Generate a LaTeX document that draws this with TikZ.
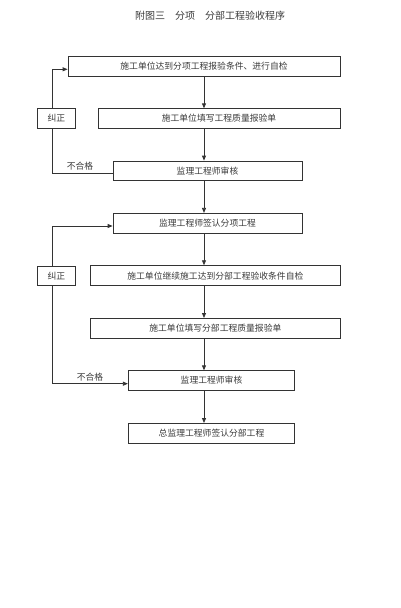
\documentclass[tikz,border=0pt]{standalone}
\usepackage{fontspec}
\newfontfamily\cjk{Noto Sans CJK SC}
\usetikzlibrary{arrows.meta}
\definecolor{linec}{HTML}{333333}
\definecolor{textc}{HTML}{3A3A3A}
\begin{document}
\begin{tikzpicture}[x=1pt,y=-1pt,
  stepbox/.style={draw=linec,line width=0.8pt,inner sep=0pt,minimum height=19.5pt,
    font=\cjk\fontsize{8.8pt}{10pt}\selectfont,text=textc},
  lbl/.style={inner sep=0pt,font=\cjk\fontsize{8.8pt}{10pt}\selectfont,text=textc},
  conn/.style={draw=linec,line width=0.8pt},
  arr/.style={conn,-{Triangle[length=5pt,width=4pt]}}]
\useasboundingbox (0,0) rectangle (400,608);
\node[lbl,font=\cjk\fontsize{10pt}{12pt}\selectfont] (title) at (210,16) {附图三　分项　分部工程验收程序};
\node[stepbox,minimum width=272pt,minimum height=20pt] (b1) at (204,66) {施工单位达到分项工程报验条件、进行自检};
\node[stepbox,minimum width=242pt] (b2) at (219,118.5) {施工单位填写工程质量报验单};
\node[stepbox,minimum width=189pt] (b3) at (207.5,170.75) {监理工程师审核};
\node[stepbox,minimum width=38pt] (j1) at (56.3,118.5) {纠正};
\node[stepbox,minimum width=189pt,minimum height=20pt] (b4) at (207.5,223.3) {监理工程师签认分项工程};
\node[stepbox,minimum width=249.3pt,minimum height=20pt] (b5) at (215.35,275.7) {施工单位继续施工达到分部工程验收条件自检};
\node[stepbox,minimum width=249.3pt] (b6) at (215.35,328.2) {施工单位填写分部工程质量报验单};
\node[stepbox,minimum width=166.4pt] (b7) at (211.5,380.5) {监理工程师审核};
\node[stepbox,minimum width=166.4pt] (b8) at (211.5,433.2) {总监理工程师签认分部工程};
\node[stepbox,minimum width=38pt] (j2) at (56.3,276) {纠正};
\node[lbl] (n1) at (80,166) {不合格};
\node[lbl] (n2) at (90,377) {不合格};
\coordinate (c1) at (52.7,69.3);
\coordinate (c2) at (52.7,173.3);
\coordinate (c3) at (52.7,226);
\coordinate (c4) at (52.7,383.7);
% vertical arrows
\draw[arr] (b1.south) -- (b1.south |- b2.north);
\draw[arr] (b1.south |- b2.south) -- (b1.south |- b3.north);
\draw[arr] (b1.south |- b3.south) -- (b1.south |- b4.north);
\draw[arr] (b1.south |- b4.south) -- (b1.south |- b5.north);
\draw[arr] (b1.south |- b5.south) -- (b1.south |- b6.north);
\draw[arr] (b1.south |- b6.south) -- (b1.south |- b7.north);
\draw[arr] (b1.south |- b7.south) -- (b1.south |- b8.north);
% feedback loops
\draw[arr] (c1 |- j1.north) -- (c1) -- (c1 -| b1.west);
\draw[conn] (c2 -| b3.west) -- (c2) -- (c2 |- j1.south);
\draw[arr] (c3 |- j2.north) -- (c3) -- (c3 -| b4.west);
\draw[arr] (c4 |- j2.south) -- (c4) -- (c4 -| b7.west);
\end{tikzpicture}
\end{document}
